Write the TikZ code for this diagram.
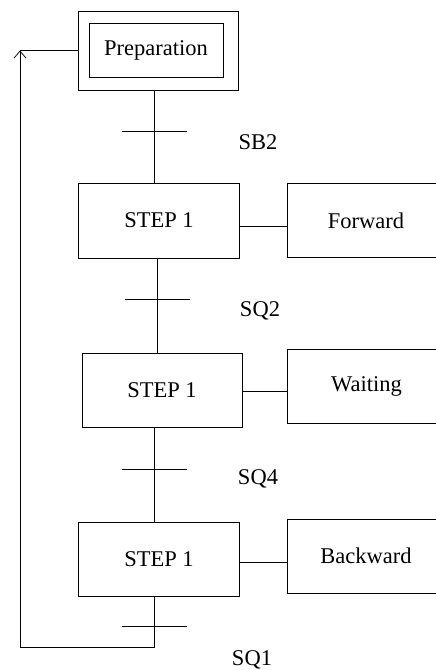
\documentclass[tikz,border=0pt]{standalone}
\usepackage{fontspec}
\setmainfont{Liberation Serif}
\usetikzlibrary{calc, positioning}
\usetikzlibrary{arrows.meta}

\tikzset{
  stepbox/.style={draw,line width=1pt,minimum width=161pt,minimum height=75pt,inner sep=0pt},
  actbox/.style={draw,line width=1pt,minimum width=158pt,minimum height=74pt,inner sep=0pt},
  link/.style={line width=0.75pt},
  cond/.style={inner sep=0pt}
}

\begin{document}
\begin{tikzpicture}[x=1pt,y=-1pt,line cap=butt,line join=miter,
  font=\fontsize{22.5}{26}\selectfont]
\path[use as bounding box] (0,0) rectangle (436,670);
\clip (0,0) rectangle (436,670);

% initial step (double box)
\node[draw,line width=1pt,minimum width=160pt,minimum height=79pt] (prepout) at (158,50.5) {};
\node[draw,line width=1pt,minimum width=134pt,minimum height=54pt,inner sep=0pt] (prep) at (156,50) {Preparation};

% steps and actions
\node[stepbox] (step1) at (159,220.5) {STEP 1};
\node[actbox] (fwd) at (366,220.5) {Forward};
\node[stepbox,minimum width=160pt,minimum height=74pt] (step2) at (162,390) {STEP 1};
\node[actbox] (wait) at (366.5,386) {Waiting};
\node[stepbox,minimum height=74pt] (step3) at (159,559) {STEP 1};
\node[actbox] (back) at (366,556) {Backward};

% transitions
\coordinate (t1) at (154,131);
\coordinate (t2) at (157,299);
\coordinate (t3) at (154,469);
\coordinate (t4) at (154,626);
\foreach \T in {t1,t2,t3,t4}{\draw[link] ($(\T)+(-32,0)$) -- ($(\T)+(33,0)$);}

\node[cond] (sb2) at (258,142) {SB2};
\node[cond] (sq2) at (260,311) {SQ2};
\node[cond] (sq4) at (258,479) {SQ4};
\node[cond] (sq1) at (252,660) {SQ1};

% sequence
\draw[link] (prepout.south -| t1) -- (step1.north -| t1);
\draw[link] (step1.south -| t2) -- (step2.north -| t2);
\draw[link] (step2.south -| t3) -- (step3.north -| t3);

% actions
\draw[link] ([yshift=-5.5pt]step1.east) -- ([yshift=-5.5pt]step1.east -| fwd.west);
\draw[link] ([yshift=-1pt]step2.east) -- ([yshift=-1pt]step2.east -| wait.west);
\draw[link] ([yshift=-3pt]step3.east) -- ([yshift=-3pt]step3.east -| back.west);

% return loop
\coordinate (loopbot) at (20,647);
\coordinate (looptop) at (20,50.5);
\draw[link] (step3.south -| t4) -- (t4 |- loopbot) -- (loopbot);
\draw[link,-{Straight Barb[length=7pt,width=12pt]}] (loopbot) -- (looptop);
\draw[link] (looptop) -- (prepout.west);
\end{tikzpicture}
\end{document}
